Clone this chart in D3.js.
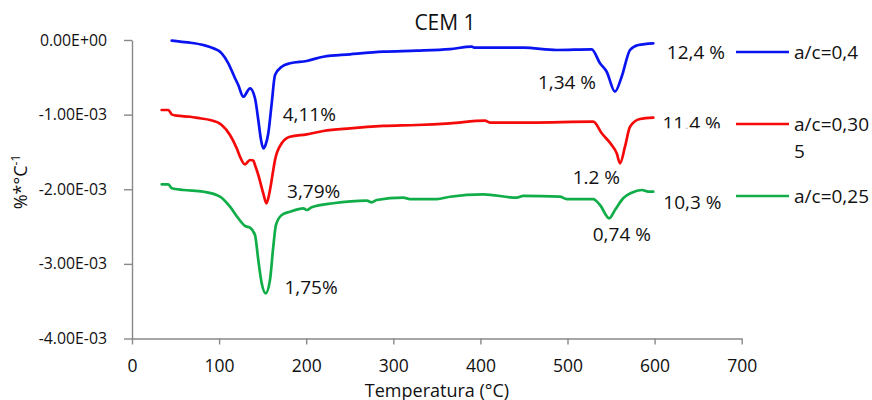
<!DOCTYPE html>
<html>
<head>
<meta charset="utf-8">
<script src="https://cdn.jsdelivr.net/npm/d3@7"></script>
<style>
  html, body { margin: 0; padding: 0; background: #fff; }
  svg { display: block; font-family: "Open Sans", "DejaVu Sans", sans-serif; }
</style>
</head>
<body>
<svg id="chart" width="872" height="400"></svg>
<script>
// DTG curves of CEM 1 pastes at three water/cement ratios
const seriesLabels = ["a/c=0,4", "a/c=0,305", "a/c=0,25"];

const temp04 = [45.6, 55.1, 66.6, 81.9, 93.3, 103.0, 110.6, 118.3, 122.0, 127.8, 135.5, 141.2, 145.0, 148.0, 150.7, 153.5, 156.5, 160.4, 164.2, 171.9, 181.4, 200.6, 219.6, 250.3, 288.5, 326.9, 365.1, 390.0, 393.8, 449.3, 487.6, 527.8, 537.3, 545.0, 554.5, 562.2, 571.8, 581.3, 598.5];
const dtg04 = [-0.009e-3, -0.023e-3, -0.036e-3, -0.067e-3, -0.111e-3, -0.178e-3, -0.312e-3, -0.513e-3, -0.603e-3, -0.760e-3, -0.647e-3, -0.781e-3, -1.072e-3, -1.330e-3, -1.451e-3, -1.400e-3, -1.250e-3, -0.848e-3, -0.469e-3, -0.358e-3, -0.312e-3, -0.281e-3, -0.224e-3, -0.192e-3, -0.157e-3, -0.143e-3, -0.121e-3, -0.090e-3, -0.103e-3, -0.103e-3, -0.134e-3, -0.125e-3, -0.312e-3, -0.425e-3, -0.693e-3, -0.492e-3, -0.134e-3, -0.067e-3, -0.044e-3];

const temp0305 = [34.1, 41.7, 45.6, 51.3, 66.6, 78.1, 89.6, 103.0, 112.5, 120.2, 124.0, 129.7, 135.5, 139.3, 141.2, 145.0, 150.7, 154.4, 158.4, 162.2, 164.2, 171.9, 181.4, 200.6, 219.6, 250.3, 288.5, 326.9, 365.1, 405.3, 411.0, 456.9, 529.6, 539.3, 550.7, 556.5, 560.3, 566.0, 571.8, 583.2, 598.5];
const dtg0305 = [-0.938e-3, -0.938e-3, -0.996e-3, -1.014e-3, -1.028e-3, -1.049e-3, -1.072e-3, -1.139e-3, -1.273e-3, -1.451e-3, -1.564e-3, -1.666e-3, -1.608e-3, -1.615e-3, -1.675e-3, -1.809e-3, -2.054e-3, -2.188e-3, -2.010e-3, -1.742e-3, -1.608e-3, -1.384e-3, -1.296e-3, -1.264e-3, -1.219e-3, -1.183e-3, -1.152e-3, -1.139e-3, -1.116e-3, -1.081e-3, -1.106e-3, -1.108e-3, -1.095e-3, -1.250e-3, -1.407e-3, -1.518e-3, -1.652e-3, -1.430e-3, -1.162e-3, -1.059e-3, -1.041e-3];

const temp025 = [34.1, 41.7, 45.6, 58.9, 81.9, 101.0, 112.5, 122.0, 129.7, 135.5, 141.2, 145.0, 148.9, 153.5, 158.4, 162.2, 165.3, 171.9, 181.4, 196.7, 200.6, 206.3, 231.1, 269.5, 275.2, 280.9, 311.5, 319.2, 349.8, 365.1, 403.3, 441.7, 449.3, 491.4, 499.1, 529.6, 537.3, 548.0, 554.5, 564.0, 573.7, 585.2, 592.8, 598.5];
const dtg025 = [-1.934e-3, -1.934e-3, -1.987e-3, -2.010e-3, -2.033e-3, -2.100e-3, -2.234e-3, -2.389e-3, -2.492e-3, -2.515e-3, -2.613e-3, -2.948e-3, -3.260e-3, -3.394e-3, -3.216e-3, -2.770e-3, -2.479e-3, -2.345e-3, -2.301e-3, -2.255e-3, -2.278e-3, -2.242e-3, -2.188e-3, -2.153e-3, -2.175e-3, -2.144e-3, -2.113e-3, -2.131e-3, -2.131e-3, -2.100e-3, -2.068e-3, -2.113e-3, -2.090e-3, -2.100e-3, -2.131e-3, -2.131e-3, -2.211e-3, -2.389e-3, -2.278e-3, -2.121e-3, -2.046e-3, -2.010e-3, -2.033e-3, -2.033e-3];

const xTicks = [0, 100, 200, 300, 400, 500, 600, 700];
const yTicks = [0, -1e-3, -2e-3, -3e-3, -4e-3];

// mass-loss notes written next to the curves
const noteTexts = ["4,11%", "3,79%", "1,75%", "1,34 %", "12,4 %", "11.4 %", "1.2 %", "10,3 %", "0,74 %"];

const colors = ["#0a14f0", "#f50a0a", "#10ad48"];

// ---- layout ----
const svg = d3.select("#chart");
const x = d3.scaleLinear().domain([0, 700]).range([132, 741.7]);
const y = d3.scaleLinear().domain([-4e-3, 0]).range([338.5, 40]);
const axisColor = "#898989";

const sci = d => {
  if (d === 0) return "0.00E+00";
  const [m, e] = d.toExponential(2).split("e");
  const sign = e[0] === "-" ? "-" : "+";
  const digits = e.replace(/^[+-]/, "").padStart(2, "0");
  return m + "E" + sign + digits;
};

// y axis
const gy = svg.append("g")
  .attr("transform", `translate(${x(0)},0)`)
  .call(d3.axisLeft(y).tickValues(yTicks).tickFormat(sci).tickSize(8).tickSizeOuter(0).tickPadding(17));
gy.selectAll("text").attr("font-size", 15.8).attr("fill", "#111").attr("font-family", "Open Sans");

// x axis
const gx = svg.append("g")
  .attr("transform", `translate(0,${y(-4e-3)})`)
  .call(d3.axisBottom(x).tickValues(xTicks).tickFormat(d3.format("d")).tickSize(6).tickSizeOuter(0).tickPadding(15));
gx.selectAll("text").attr("font-size", 17.5).attr("fill", "#111").attr("font-family", "Open Sans");

[gx, gy].forEach(g => {
  g.select(".domain").attr("stroke", axisColor).attr("stroke-width", 1.4);
  g.selectAll(".tick line").attr("stroke", axisColor).attr("stroke-width", 1.4);
});

// curves
const series = [
  { t: temp04, v: dtg04 },
  { t: temp0305, v: dtg0305 },
  { t: temp025, v: dtg025 }
];
const line = d3.line()
  .x(d => x(d[0]))
  .y(d => y(d[1]))
  .curve(d3.curveMonotoneX);

series.forEach((s, i) => {
  svg.append("path")
    .datum(d3.zip(s.t, s.v))
    .attr("fill", "none")
    .attr("stroke", colors[i])
    .attr("stroke-width", 2.7)
    .attr("stroke-linejoin", "round")
    .attr("stroke-linecap", "round")
    .attr("d", line);
});

// title
svg.append("text")
  .attr("x", 445).attr("y", 30)
  .attr("text-anchor", "middle")
  .attr("font-size", 21).attr("fill", "#111")
  .text("CEM 1");

// axis titles
svg.append("text")
  .attr("x", 437).attr("y", 396.5)
  .attr("text-anchor", "middle")
  .attr("font-size", 18).attr("fill", "#111")
  .text("Temperatura (°C)");

const yt = svg.append("text")
  .attr("transform", "translate(27,182) rotate(-90)")
  .attr("text-anchor", "middle")
  .attr("font-size", 18).attr("fill", "#111");
yt.append("tspan").text("%*°C");
yt.append("tspan").attr("dy", -7).attr("font-size", 12).text("-1");

// notes: baseline anchored in data coordinates
const notePos = [
  [173, -1.092e-3], [178, -2.111e-3], [175, -3.397e-3],
  [466, -0.650e-3], [614, -0.248e-3], [609, -1.206e-3],
  [506, -1.936e-3], [610, -2.271e-3], [529, -2.700e-3]
];
svg.append("clipPath").attr("id", "noteClip")
  .append("rect").attr("x", 0).attr("y", 0).attr("width", 872).attr("height", 128.3);

noteTexts.forEach((txt, i) => {
  const t = svg.append("text")
    .attr("x", x(notePos[i][0]))
    .attr("y", y(notePos[i][1]))
    .attr("font-size", 19).attr("fill", "#111")
    .text(txt);
  if (txt === "11.4 %") t.attr("clip-path", "url(#noteClip)");
});

// legend
const legendY = [52, 124, 196];
const lg = svg.append("g");
seriesLabels.forEach((lab, i) => {
  lg.append("line")
    .attr("x1", 736).attr("x2", 789)
    .attr("y1", legendY[i]).attr("y2", legendY[i])
    .attr("stroke", colors[i]).attr("stroke-width", 2.7);
  const t = lg.append("text")
    .attr("x", 794).attr("y", legendY[i] + 6.8)
    .attr("font-size", 19).attr("fill", "#111");
  // narrow legend column wraps the long label
  if (lab.length > 8) {
    t.append("tspan").text(lab.slice(0, 8));
    t.append("tspan").attr("x", 794).attr("dy", 27).text(lab.slice(8));
  } else {
    t.text(lab);
  }
});
</script>
</body>
</html>
